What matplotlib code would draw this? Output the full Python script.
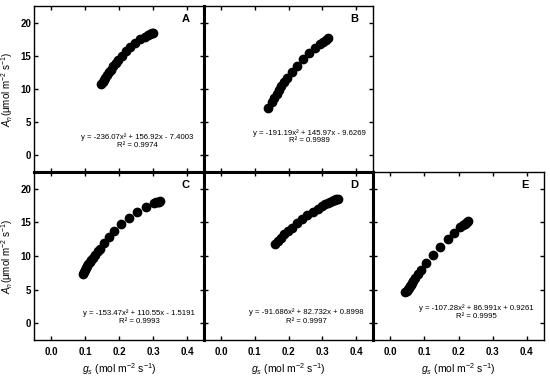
import matplotlib
matplotlib.use("Agg")
import matplotlib.pyplot as plt

plt.rcParams["font.family"] = ["Liberation Sans", "DejaVu Sans"]
plt.rcParams["mathtext.fontset"] = "custom"
plt.rcParams["mathtext.rm"] = "Liberation Sans"
plt.rcParams["mathtext.it"] = "Liberation Sans:italic"

# panel A
xa = [0.148, 0.152, 0.156, 0.160, 0.165, 0.170, 0.176, 0.183, 0.190, 0.198,
      0.208, 0.220, 0.233, 0.248, 0.262, 0.275, 0.285, 0.292, 0.297, 0.300]
ya = [10.7, 11.0, 11.3, 11.7, 12.1, 12.5, 12.9, 13.4, 13.9, 14.4,
      15.0, 15.7, 16.3, 17.0, 17.5, 17.9, 18.15, 18.3, 18.4, 18.45]
# panel B
xb = [0.140, 0.150, 0.158, 0.165, 0.172, 0.179, 0.187, 0.197, 0.210, 0.225,
      0.242, 0.260, 0.278, 0.292, 0.303, 0.311, 0.318]
yb = [7.1, 8.0, 8.7, 9.3, 9.85, 10.4, 11.0, 11.7, 12.6, 13.5,
      14.5, 15.4, 16.2, 16.75, 17.15, 17.45, 17.7]
# panel C
xc = [0.094, 0.097, 0.100, 0.103, 0.106, 0.110, 0.114, 0.118, 0.123, 0.129,
      0.137, 0.145, 0.157, 0.170, 0.186, 0.207, 0.229, 0.252, 0.280, 0.302,
      0.309, 0.314, 0.318, 0.322]
yc = [7.3, 7.6, 7.9, 8.2, 8.45, 8.8, 9.1, 9.4, 9.75, 10.2,
      10.75, 11.1, 11.9, 12.8, 13.75, 14.75, 15.65, 16.5, 17.35, 17.85,
      17.98, 18.05, 18.1, 18.15]
# panel D
xd = [0.160, 0.168, 0.177, 0.187, 0.198, 0.210, 0.224, 0.240, 0.256, 0.272,
      0.286, 0.298, 0.308, 0.316, 0.323, 0.329, 0.334, 0.338, 0.342, 0.345]
yd = [11.8, 12.2, 12.7, 13.2, 13.7, 14.2, 14.85, 15.5, 16.05, 16.6,
      17.05, 17.4, 17.7, 17.9, 18.05, 18.2, 18.3, 18.4, 18.5, 18.55]
# panel E
xe = [0.045, 0.048, 0.051, 0.054, 0.057, 0.060, 0.064, 0.068, 0.074, 0.081,
      0.090, 0.105, 0.125, 0.147, 0.168, 0.187, 0.205, 0.212, 0.218, 0.222,
      0.226, 0.228]
ye = [4.6, 4.85, 5.1, 5.3, 5.55, 5.75, 6.05, 6.35, 6.8, 7.3,
      7.95, 8.9, 10.1, 11.4, 12.5, 13.45, 14.3, 14.6, 14.8, 14.95,
      15.1, 15.2]

letters = ["A", "B", "C", "D", "E"]
equations = ["y = -236.07x² + 156.92x - 7.4003",
             "y = -191.19x² + 145.97x - 9.6269",
             "y = -153.47x² + 110.55x - 1.5191",
             "y = -91.686x² + 82.732x + 0.8998",
             "y = -107.28x² + 86.991x + 0.9261"]
r2 = ["R² = 0.9974", "R² = 0.9989", "R² = 0.9993", "R² = 0.9997", "R² = 0.9995"]
xs = [xa, xb, xc, xd, xe]
ys = [ya, yb, yc, yd, ye]
eq_pos = [(0.253, 2.8, 1.45), (0.262, 3.4, 2.2), (0.259, 1.5, 0.3),
          (0.252, 1.6, 0.3), (0.253, 2.2, 1.05)]

W, H = 550, 376
fig = plt.figure(figsize=(5.5, 3.76), dpi=100)

cols = [34, 204, 373, 544]
rows = [6, 172, 340]
cells = [(0, 0), (0, 1), (1, 0), (1, 1), (1, 2)]
thick, thin = 2.2, 1.0

for i, (r, c) in enumerate(cells):
    x0, x1 = cols[c], cols[c + 1]
    y0, y1 = rows[r], rows[r + 1]
    ax = fig.add_axes([x0 / W, 1 - y1 / H, (x1 - x0) / W, (y1 - y0) / H])
    ax.plot(xs[i], ys[i], "o", color="black", ms=6, zorder=3)
    ax.set_xlim(-0.05, 0.45)
    ax.set_ylim(-2.5, 22.5)
    ax.set_xticks([0.0, 0.1, 0.2, 0.3, 0.4])
    ax.set_yticks([0, 5, 10, 15, 20])
    ax.tick_params(direction="in", length=3, width=1, top=True, right=True,
                   labelsize=7, pad=2)
    for lab in ax.get_xticklabels() + ax.get_yticklabels():
        lab.set_fontweight("bold")

    # shared borders drawn thick, outer borders thin
    ax.spines["left"].set_linewidth(thick if c > 0 else thin)
    ax.spines["right"].set_linewidth(thick if (c < 2 and not (r == 0 and c == 1)) else thin)
    ax.spines["top"].set_linewidth(thick if (r == 1 and c < 2) else thin)
    ax.spines["bottom"].set_linewidth(thick if r == 0 else thin)

    if c == 0:
        ax.set_ylabel(r"$A_n$(μmol m$^{-2}$ s$^{-1}$)", fontsize=7, labelpad=4)
    else:
        ax.tick_params(labelleft=False)
    if r == 1:
        ax.set_xlabel(r"$g_s$ (mol m$^{-2}$ s$^{-1}$)", fontsize=7.5, labelpad=3)
        ax.tick_params(axis="x", pad=5)
    else:
        ax.tick_params(labelbottom=False)

    ax.text(0.395, 20.5, letters[i], fontsize=8, fontweight="bold",
            ha="center", va="center")
    ex, ey, ry = eq_pos[i]
    ax.text(ex, ey, equations[i], fontsize=5.6, ha="center", va="center")
    ax.text(ex, ry, r2[i], fontsize=5.6, ha="center", va="center")

fig.savefig("out.png", dpi=100)
